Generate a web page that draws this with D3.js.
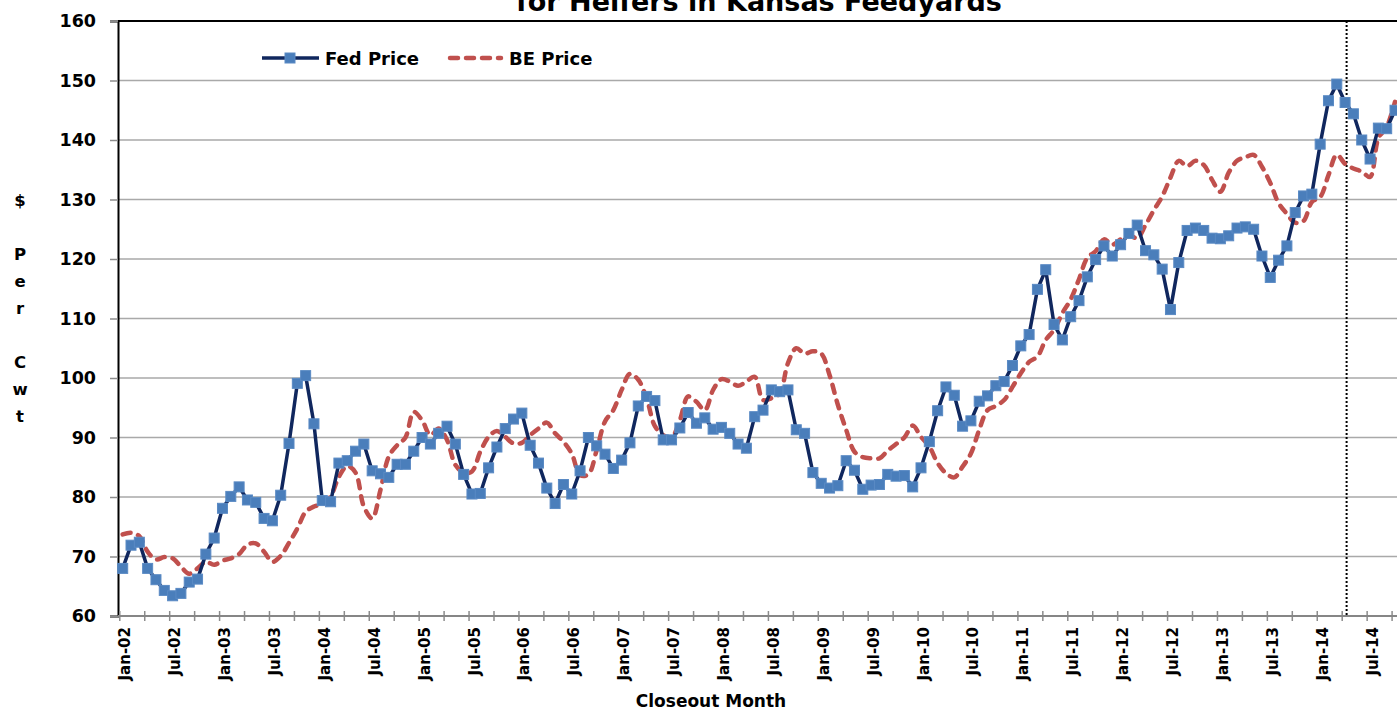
<!DOCTYPE html>
<html>
<head>
<meta charset="utf-8">
<script src="https://cdn.jsdelivr.net/npm/d3@7"></script>
<style>
  body { margin: 0; background: #fff; }
  svg { display: block; font-family: "DejaVu Sans", sans-serif; font-weight: bold; }
</style>
</head>
<body>
<svg id="chart" width="1397" height="711"></svg>
<script>
// monthly closeout prices, Jan-02 .. Oct-14
const fedPrice = [
  68.0, 71.9, 72.4, 68.0, 66.1, 64.3, 63.4, 63.8, 65.7, 66.2, 70.4, 73.1,
  78.1, 80.1, 81.7, 79.5, 79.1, 76.4, 76.0, 80.3, 89.0, 99.1, 100.4, 92.3,
  79.4, 79.2, 85.7, 86.1, 87.7, 88.9, 84.4, 83.9, 83.3, 85.5, 85.5, 87.7,
  90.0, 88.9, 90.7, 91.9, 88.9, 83.8, 80.5, 80.6, 84.9, 88.4, 91.5, 93.1,
  94.1, 88.7, 85.7, 81.5, 78.9, 82.1, 80.5, 84.4, 90.0, 88.6, 87.2, 84.8,
  86.2, 89.1, 95.3, 96.9, 96.2, 89.6, 89.6, 91.6, 94.2, 92.4, 93.3, 91.4,
  91.7, 90.7, 88.9, 88.2, 93.5, 94.6, 98.0, 97.7, 98.0, 91.3, 90.7, 84.1,
  82.3, 81.5, 81.9, 86.1, 84.5, 81.3, 82.0, 82.1, 83.8, 83.5, 83.6, 81.7,
  84.9, 89.3, 94.5, 98.5, 97.1, 91.9, 92.8, 96.1, 97.0, 98.7, 99.4, 102.1,
  105.4, 107.3, 114.9, 118.2, 109.0, 106.4, 110.3, 113.0, 117.0, 119.9, 122.2, 120.5,
  122.4, 124.3, 125.7, 121.4, 120.7, 118.3, 111.5, 119.4, 124.8, 125.2, 124.8, 123.5,
  123.4, 123.9, 125.2, 125.4, 125.0, 120.5, 116.9, 119.8, 122.2, 127.8, 130.6, 130.9,
  139.3, 146.6, 149.4, 146.3, 144.4, 140.0, 136.8, 142.0, 141.9, 145.0
];
const bePrice = [
  73.7, 74.0, 73.4, 70.8, 69.5, 69.9, 69.7, 68.3, 67.1, 68.0, 69.1, 68.6,
  69.3, 69.7, 70.4, 72.0, 72.2, 70.8, 69.1, 70.1, 72.3, 74.7, 77.5, 78.4,
  78.8, 80.1, 83.4, 85.2, 84.1, 78.4, 76.4, 81.2, 86.8, 88.7, 90.0, 94.3,
  92.9, 90.4, 91.5, 89.6, 85.4, 84.1, 84.3, 87.6, 90.1, 91.1, 90.1, 89.0,
  89.1, 90.4, 91.5, 92.5, 90.7, 89.3, 87.3, 83.7, 83.8, 87.9, 92.7, 94.6,
  98.0, 100.7, 99.7, 96.6, 91.9, 90.4, 90.0, 92.9, 96.9, 96.0, 94.6, 98.0,
  99.8, 99.4, 98.7, 99.4, 100.2, 96.3, 96.6, 97.4, 102.5, 105.0, 104.1, 104.5,
  104.1, 100.5, 95.5, 91.3, 87.6, 86.7, 86.5, 86.5, 87.8, 88.9, 90.0, 92.0,
  90.1, 88.5, 85.7, 84.0, 83.3, 85.1, 87.3, 91.3, 94.6, 95.3, 96.3, 98.5,
  100.8, 102.7, 103.6, 106.4, 108.1, 110.9, 113.2, 116.6, 120.2, 121.3, 123.3, 122.4,
  123.3, 124.0, 123.5, 125.7, 128.2, 130.5, 133.7, 136.5, 135.6, 136.5, 135.8, 133.3,
  131.3, 134.5, 136.5, 137.1, 137.5, 135.5, 132.8, 129.4, 127.6, 126.1, 126.4, 129.6,
  130.4, 134.1, 137.5, 136.0, 135.2, 134.7, 133.8, 140.3, 142.2, 146.4
];
const tickLabels = [
  "Jan-02", "Jul-02", "Jan-03", "Jul-03", "Jan-04", "Jul-04", "Jan-05", "Jul-05",
  "Jan-06", "Jul-06", "Jan-07", "Jul-07", "Jan-08", "Jul-08", "Jan-09", "Jul-09",
  "Jan-10", "Jul-10", "Jan-11", "Jul-11", "Jan-12", "Jul-12", "Jan-13", "Jul-13",
  "Jan-14", "Jul-14"
];
const yTicks = [60, 70, 80, 90, 100, 110, 120, 130, 140, 150, 160];
const yTitle = ["$", "", "P", "e", "r", "", "C", "w", "t"];
const cutoffMonth = 147;

const svg = d3.select('#chart');
const x = d3.scaleLinear().domain([0, 153]).range([122.7, 1395]);
const y = d3.scaleLinear().domain([60, 160]).range([616, 21]);
const left = 118, right = 1397;

// title (first line falls outside the picture)
svg.append('text').attr('x', 759).attr('y', 11).attr('text-anchor', 'middle')
  .attr('font-size', 27).text('for Heifers in Kansas Feedyards');

// gridlines
svg.append('g').selectAll('line').data(yTicks.filter(d => d > 60 && d < 160)).join('line')
  .attr('x1', left).attr('x2', right).attr('y1', d => y(d)).attr('y2', d => y(d))
  .attr('stroke', '#a9a9a9').attr('stroke-width', 1.5);
svg.append('line').attr('x1', left).attr('x2', right).attr('y1', y(160)).attr('y2', y(160))
  .attr('stroke', '#000').attr('stroke-width', 2);

// y axis
const yAxis = svg.append('g').attr('transform', `translate(${left},0)`)
  .call(d3.axisLeft(y).tickValues(yTicks).tickSize(8).tickPadding(14));
yAxis.select('.domain').attr('stroke', '#000').attr('stroke-width', 2);
yAxis.selectAll('.tick line').attr('stroke', '#8c8c8c').attr('stroke-width', 1.5);
yAxis.selectAll('.tick text').attr('font-size', 17.5).attr('font-family', '"DejaVu Sans", sans-serif')
  .attr('font-weight', 'bold').attr('fill', '#000');

svg.append('g').selectAll('text').data(yTitle).join('text')
  .attr('x', 20).attr('y', (d, i) => 206 + i * 27).attr('text-anchor', 'middle')
  .attr('font-size', 16.5).text(d => d);

// x axis
const xTickVals = d3.range(0, 160, 3).map(d => d - 0.41);
const xAxis = svg.append('g').attr('transform', `translate(0,${y(60)})`)
  .call(d3.axisBottom(x).tickValues(xTickVals).tickSize(0).tickFormat(''));
xAxis.select('.domain').remove();
svg.append('line').attr('x1', left).attr('x2', right).attr('y1', y(60)).attr('y2', y(60))
  .attr('stroke', '#868686').attr('stroke-width', 2);
xAxis.selectAll('.tick line').attr('y1', -5).attr('y2', 5)
  .attr('stroke', '#8c8c8c').attr('stroke-width', 1.5);

svg.append('g').selectAll('text').data(tickLabels).join('text')
  .attr('transform', (d, i) => `translate(${x(i * 6 - 0.41) + 6},627) rotate(-90)`)
  .attr('text-anchor', 'end').attr('dominant-baseline', 'central')
  .attr('font-size', 15).text(d => d);

svg.append('text').attr('x', 711).attr('y', 707).attr('text-anchor', 'middle')
  .attr('font-size', 17).text('Closeout Month');

// cutoff marker
svg.append('line').attr('x1', x(cutoffMonth) + 1.5).attr('x2', x(cutoffMonth) + 1.5)
  .attr('y1', y(160)).attr('y2', y(60))
  .attr('stroke', '#000').attr('stroke-width', 2).attr('stroke-dasharray', '2,2');

// series
const idx = d3.range(fedPrice.length);
svg.append('path').datum(idx)
  .attr('d', d3.line().x(i => x(i)).y(i => y(bePrice[i])).curve(d3.curveCatmullRom.alpha(0.5)))
  .attr('fill', 'none').attr('stroke', '#c0504d').attr('stroke-width', 4.5)
  .attr('stroke-linecap', 'round').attr('stroke-dasharray', '8,8');

svg.append('path').datum(idx)
  .attr('d', d3.line().x(i => x(i)).y(i => y(fedPrice[i])))
  .attr('fill', 'none').attr('stroke', '#10275e').attr('stroke-width', 3.5)
  .attr('stroke-linejoin', 'round');

svg.append('g').selectAll('rect').data(idx).join('rect')
  .attr('x', i => x(i) - 5).attr('y', i => y(fedPrice[i]) - 5)
  .attr('width', 10).attr('height', 10)
  .attr('fill', '#4a7ebb').attr('stroke', '#5a8ac4').attr('stroke-width', 1);

// legend
const lg = svg.append('g');
lg.append('line').attr('x1', 262).attr('x2', 319).attr('y1', 58).attr('y2', 58)
  .attr('stroke', '#10275e').attr('stroke-width', 3.5);
lg.append('rect').attr('x', 285).attr('y', 53).attr('width', 10).attr('height', 10)
  .attr('fill', '#4a7ebb').attr('stroke', '#5a8ac4');
lg.append('text').attr('x', 325).attr('y', 64.5).attr('font-size', 18).text('Fed Price');
lg.append('line').attr('x1', 450).attr('x2', 501).attr('y1', 58).attr('y2', 58)
  .attr('stroke', '#c0504d').attr('stroke-width', 4.5)
  .attr('stroke-linecap', 'round').attr('stroke-dasharray', '8,8');
lg.append('text').attr('x', 509).attr('y', 64.5).attr('font-size', 18).text('BE Price');
</script>
</body>
</html>
